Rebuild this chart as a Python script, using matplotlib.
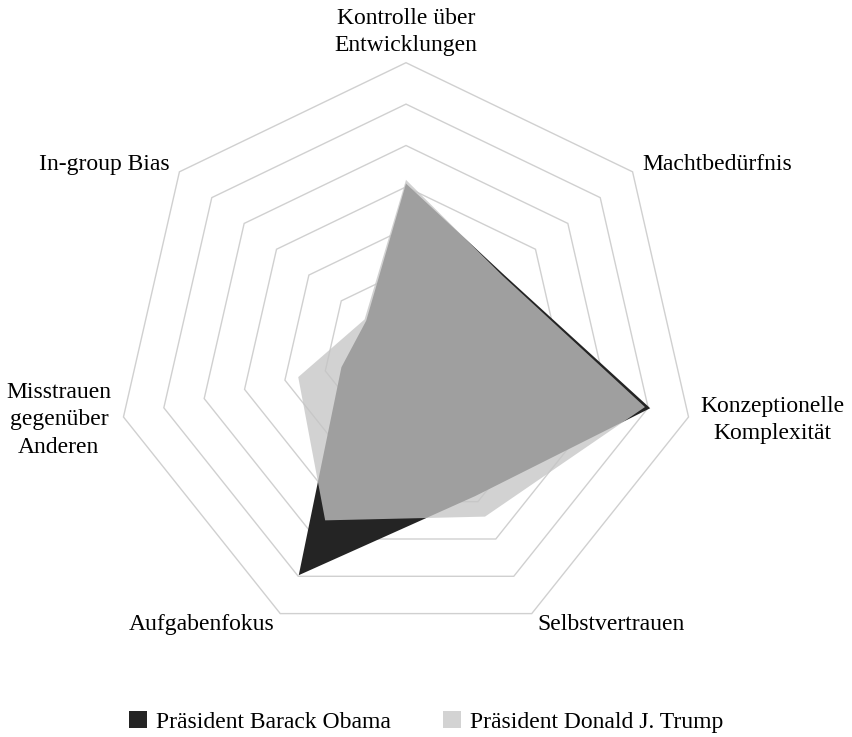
import numpy as np
import matplotlib
matplotlib.use('Agg')
import matplotlib.pyplot as plt
from matplotlib.patches import Patch

plt.rcParams['font.family'] = ['Liberation Serif', 'DejaVu Serif']

# Categories (clockwise, starting at the top)
categories = ['Kontrolle über\nEntwicklungen', 'Machtbedürfnis', 'Konzeptionelle\nKomplexität',
              'Selbstvertrauen', 'Aufgabenfokus', 'Misstrauen\ngegenüber\nAnderen', 'In-group Bias']
# Series values (grid unit = one ring)
obama = [4.08, 3.02, 6.05, 3.85, 5.97, 1.6, 1.23]
trump = [4.17, 2.98, 5.92, 4.4, 4.5, 2.67, 1.28]
series_names = ['Präsident Barack Obama', 'Präsident Donald J. Trump']
rings = [1, 2, 3, 4, 5, 6, 7]

n = len(categories)
angles = np.pi / 2 - np.arange(n) * 2 * np.pi / n


def to_xy(vals):
    vals = np.asarray(vals, dtype=float)
    return vals * np.cos(angles), vals * np.sin(angles)


fig = plt.figure(figsize=(8.53, 7.37), dpi=100)
ax = fig.add_axes([0, 0, 1, 1])
ax.set_xlim(-406 / 41.4, (853 - 406) / 41.4)
ax.set_ylim((352.5 - 737) / 41.4, 352.5 / 41.4)
ax.axis('off')

# heptagon grid
for r in rings:
    gx, gy = to_xy([r] * n)
    ax.fill(gx, gy, facecolor='none', edgecolor='#d0d0d0', linewidth=1.0, zorder=1)

# series
ox, oy = to_xy(obama)
ax.fill(ox, oy, facecolor='#242424', edgecolor='none', zorder=2)
tx, ty = to_xy(trump)
ax.fill(tx, ty, facecolor='#c5c5c5', alpha=0.77, edgecolor='none', zorder=3)

# axis labels
for i, lab in enumerate(categories):
    c, s = np.cos(angles[i]), np.sin(angles[i])
    if i == 0:
        ax.text(0, 7.15, lab, ha='center', va='bottom', fontsize=17,
                multialignment='center', linespacing=1.4)
        continue
    r = 7.3
    ha = 'left' if c > 0 else 'right'
    ax.text(r * c, r * s, lab, ha=ha, va='center', fontsize=17,
            multialignment='center', linespacing=1.4)

handles = [Patch(facecolor='#242424', edgecolor='none'),
           Patch(facecolor='#d3d3d3', edgecolor='none')]
fig.legend(handles, series_names, loc='center', bbox_to_anchor=(0.5, 1 - 722 / 737),
           ncol=2, frameon=False, fontsize=17, handlelength=0.75, handleheight=0.75,
           handletextpad=0.4, columnspacing=2.2)

fig.savefig('out.png', dpi=100)
